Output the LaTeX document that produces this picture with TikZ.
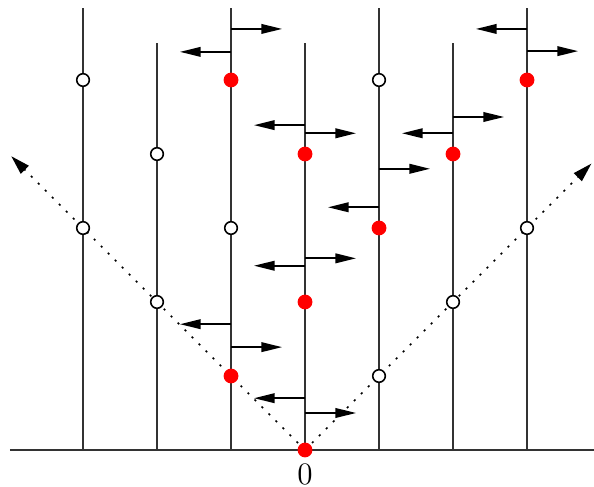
\documentclass[tikz,border=0pt]{standalone}
\usetikzlibrary{arrows.meta, positioning}
\begin{document}
\begin{tikzpicture}[
    x=1cm, y=1cm,
    axis/.style={line width=0.8pt, draw=black!80},
    opendot/.style={circle, draw=black, fill=white, line width=0.6pt, inner sep=0pt, minimum size=0.17cm},
    reddot/.style={circle, fill=red, inner sep=0pt, minimum size=0.2cm},
    push/.style={-{Triangle[length=0.28cm, width=0.13cm]}, line width=0.7pt},
    cone/.style={-{Triangle[length=0.26cm, width=0.15cm]}, dash pattern=on 0.8pt off 3pt, line width=0.6pt}
]
\useasboundingbox (-4.122,-0.5) rectangle (3.905,6.081);

% Base line and origin
\coordinate (o) at (0,0);
\coordinate (baseL) at (-3.99,0);
\coordinate (baseR) at (3.905,0);
\draw[axis] (baseL) -- (baseR);

% Vertical lines
\foreach \i/\top in {-3/5.97, -2/5.5, -1/5.97, 0/5.5, 1/5.97, 2/5.5, 3/5.97}
  \draw[axis] (\i,0) -- (\i,\top);

% Light cone
\coordinate (coneL) at (-3.97,3.97);
\coordinate (coneR) at (3.87,3.87);
\draw[cone] (o) -- (coneL);
\draw[cone] (o) -- (coneR);

% Pushes along the lines
\foreach \x/\y/\d in {-1/5.69/0.69, -1/5.38/-0.69,
                      0/4.39/-0.69, 0/4.28/0.69,
                      1/3.80/0.69, 1/3.28/-0.69,
                      2/4.50/0.69, 2/4.28/-0.69,
                      3/5.69/-0.69, 3/5.39/0.69,
                      0/2.59/0.69, 0/2.49/-0.69,
                      -1/1.70/-0.69, -1/1.39/0.69,
                      0/0.70/-0.69, 0/0.50/0.69}
  \draw[push] (\x,\y) -- ++(\d,0);

% Open sites
\node[opendot] (m3a) at (-3,5) {};
\node[opendot] (m3b) at (-3,3) {};
\node[opendot] (m2a) at (-2,4) {};
\node[opendot] (m2b) at (-2,2) {};
\node[opendot] (m1b) at (-1,3) {};
\node[opendot] (p1a) at (1,5) {};
\node[opendot] (p1c) at (1,1) {};
\node[opendot] (p2b) at (2,2) {};
\node[opendot] (p3b) at (3,3) {};

% Occupied sites
\node[reddot] (m1a) at (-1,5) {};
\node[reddot] (m1c) at (-1,1) {};
\node[reddot] (z1) at (0,4) {};
\node[reddot] (z2) at (0,2) {};
\node[reddot] (z0) at (o) {};
\node[reddot] (p1b) at (1,3) {};
\node[reddot] (p2a) at (2,4) {};
\node[reddot] (p3a) at (3,5) {};

\node[below=4.5pt of o, font=\large, inner sep=0.5pt] (zero) {0};

\end{tikzpicture}
\end{document}
